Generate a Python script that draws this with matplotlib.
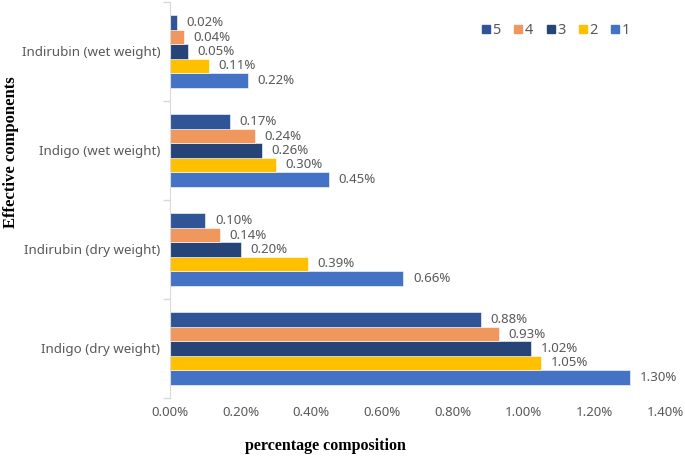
import matplotlib
matplotlib.use("Agg")
import matplotlib.pyplot as plt
from matplotlib.lines import Line2D
import numpy as np

categories = ["Indigo (dry weight)", "Indirubin (dry weight)", "Indigo (wet weight)", "Indirubin (wet weight)"]
series_names = ["1", "2", "3", "4", "5"]
s1 = [1.30, 0.66, 0.45, 0.22]
s2 = [1.05, 0.39, 0.30, 0.11]
s3 = [1.02, 0.20, 0.26, 0.05]
s4 = [0.93, 0.14, 0.24, 0.04]
s5 = [0.88, 0.10, 0.17, 0.02]
series = [s1, s2, s3, s4, s5]
colors = ["#4472C4", "#FFC000", "#264478", "#F0975E", "#2F5597"]
xticks = [0.0, 0.2, 0.4, 0.6, 0.8, 1.0, 1.2, 1.4]

gray = "#595959"
plt.rcParams['font.family'] = ['Noto Sans', 'DejaVu Sans']

fig = plt.figure(figsize=(6.85, 4.57), dpi=100)
ax = fig.add_axes([170/685, 1-398/457, (665-170)/685, 396/457])

y = np.arange(len(categories))
h = 0.146
for i, (vals, c) in enumerate(zip(series, colors)):
    pos = y + (i - 2) * h
    ax.barh(pos, vals, height=h, color=c, edgecolor="white", linewidth=0.4)
    for p, v in zip(pos, vals):
        ax.annotate(f"{v:.2f}%", (v, p), xytext=(7, 0), textcoords="offset points",
                    va="center", ha="left", fontsize=9.5, color=gray)

ax.set_xlim(0, 1.4)
ax.set_ylim(-0.5, 3.5)
ax.set_xticks(xticks)
ax.set_xticklabels([f"{t:.2f}%" for t in xticks], fontsize=9.5, color=gray)
ax.set_yticks(y)
ax.set_yticklabels(categories, fontsize=9.6, color=gray)
ax.set_yticks(np.arange(-0.5, 3.6, 1), minor=True)
ax.tick_params(axis="y", which="major", length=0, pad=7)
ax.tick_params(axis="y", which="minor", length=5, color="#D9D9D9", width=1)
ax.tick_params(axis="x", length=0, pad=6)
for s in ["top", "right", "bottom"]:
    ax.spines[s].set_visible(False)
ax.spines["left"].set_color("#D9D9D9")

fig.text(325/685, 1-446/457, "percentage composition", ha="center", va="center",
         fontsize=11.5, fontweight="bold", family="Liberation Serif")
fig.text(11/685, 1-152/457, "Effective components", ha="center", va="center", rotation=90,
         fontsize=12, fontweight="bold", family="Liberation Serif")

handles = [Line2D([], [], marker="s", linestyle="none", markersize=6, color=colors[i]) for i in range(4, -1, -1)]
labels = [series_names[i] for i in range(4, -1, -1)]
leg = fig.legend(handles, labels, loc="center", bbox_to_anchor=(556/685, 1-31/457), ncol=5,
                 frameon=False, fontsize=10.5, handletextpad=0.15, columnspacing=0.9, handlelength=0.6)
for t in leg.get_texts():
    t.set_color(gray)

fig.savefig("out.png", dpi=100)
